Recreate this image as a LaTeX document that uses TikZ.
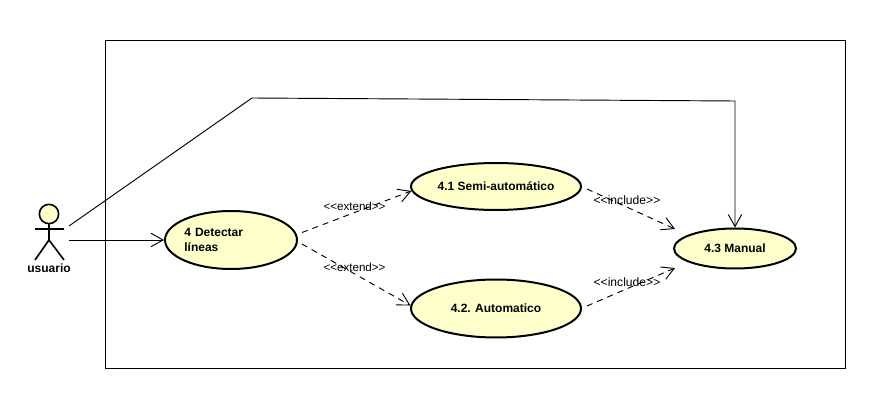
\documentclass[tikz,border=0pt]{standalone}
\usepackage{fontspec}
\setmainfont{Liberation Sans}
\usetikzlibrary{shapes.geometric,arrows.meta}
\definecolor{ucfill}{HTML}{FFFFCC}
\tikzset{
  usecase/.style={ellipse,draw=black,line width=1.5pt,fill=ucfill,inner sep=0pt,font=\fontsize{9}{11.25}\selectfont\bfseries},
  actorline/.style={draw=black,line width=1.2pt},
  assoc/.style={draw=black,line width=0.7pt,-{Straight Barb[length=9pt,width=10pt,line width=0.7pt]}},
  depend/.style={assoc,dash pattern=on 4.5pt off 3.8pt},
  stereo/.style={inner sep=0pt,font=\fontsize{8.7}{10}\selectfont},
  stereoinc/.style={inner sep=0pt,font=\fontsize{9.1}{10}\selectfont},
  frame/.style={draw=black,line width=0.75pt}
}
\begin{document}
\begin{tikzpicture}[x=0.75pt,y=-0.75pt]
\useasboundingbox[fill=white] (0,0) rectangle (879,413);
\node[frame,minimum width=555pt,minimum height=246pt,inner sep=0pt] (sys) at (475,205) {};
% actor
\node[circle,actorline,fill=ucfill,minimum size=14.5pt,inner sep=0pt] (head) at (49,214) {};
\coordinate (hip) at (49,240);
\coordinate (armL) at (35,229);
\coordinate (armR) at (64,229);
\coordinate (legL) at (35,260);
\coordinate (legR) at (64,260);
\draw[actorline] (head.south) -- (hip);
\draw[actorline] (armL) -- (armR);
\draw[actorline] (legL) -- (hip) -- (legR);
\node[inner sep=0pt,font=\fontsize{9}{11}\selectfont\bfseries] (usr) at (49,268) {usuario};
% use cases
\node[usecase,minimum width=99pt,minimum height=43.5pt,text width=70pt,align=left] (det) at (231,240) {4 Detectar\\líneas};
\node[usecase,minimum width=127.5pt,minimum height=35.25pt] (semi) at (496,186.5) {4.1 Semi-automático};
\node[usecase,minimum width=127.5pt,minimum height=43.5pt] (auto) at (496,308.5) {4.2. Automatico};
\node[usecase,minimum width=91.5pt,minimum height=30pt] (man) at (735,248.5) {4.3 Manual};
% connector ends
\coordinate (actA) at (69,226);
\coordinate (actB) at (69,240);
\coordinate (bendA) at (252,98);
\coordinate (bendB) at (735,101);
\coordinate (detA) at (302,232.5);
\coordinate (detB) at (302,244);
\coordinate (semiE) at (587,189);
\coordinate (autoE) at (587,306);
\coordinate (manA) at (675,229);
\coordinate (manB) at (675,268);
% connectors
\draw[assoc] (actA) -- (bendA) -- (bendB) -- (man.north);
\draw[assoc] (actB) -- (det.west);
\draw[depend] (detA) -- (semi.183);
\draw[depend] (detB) -- (auto.178);
\draw[depend] (semiE) -- (manA);
\draw[depend] (autoE) -- (manB);
% stereotypes
\node[stereo] (l1) at (354.5,206.5) {<{}<extend>{}>};
\node[stereo] (l2) at (354.5,267) {<{}<extend>{}>};
\node[stereoinc] (l3) at (627,200.5) {<{}<include>{}>};
\node[stereoinc] (l4) at (627,282.5) {<{}<include>{}>};
\end{tikzpicture}
\end{document}
